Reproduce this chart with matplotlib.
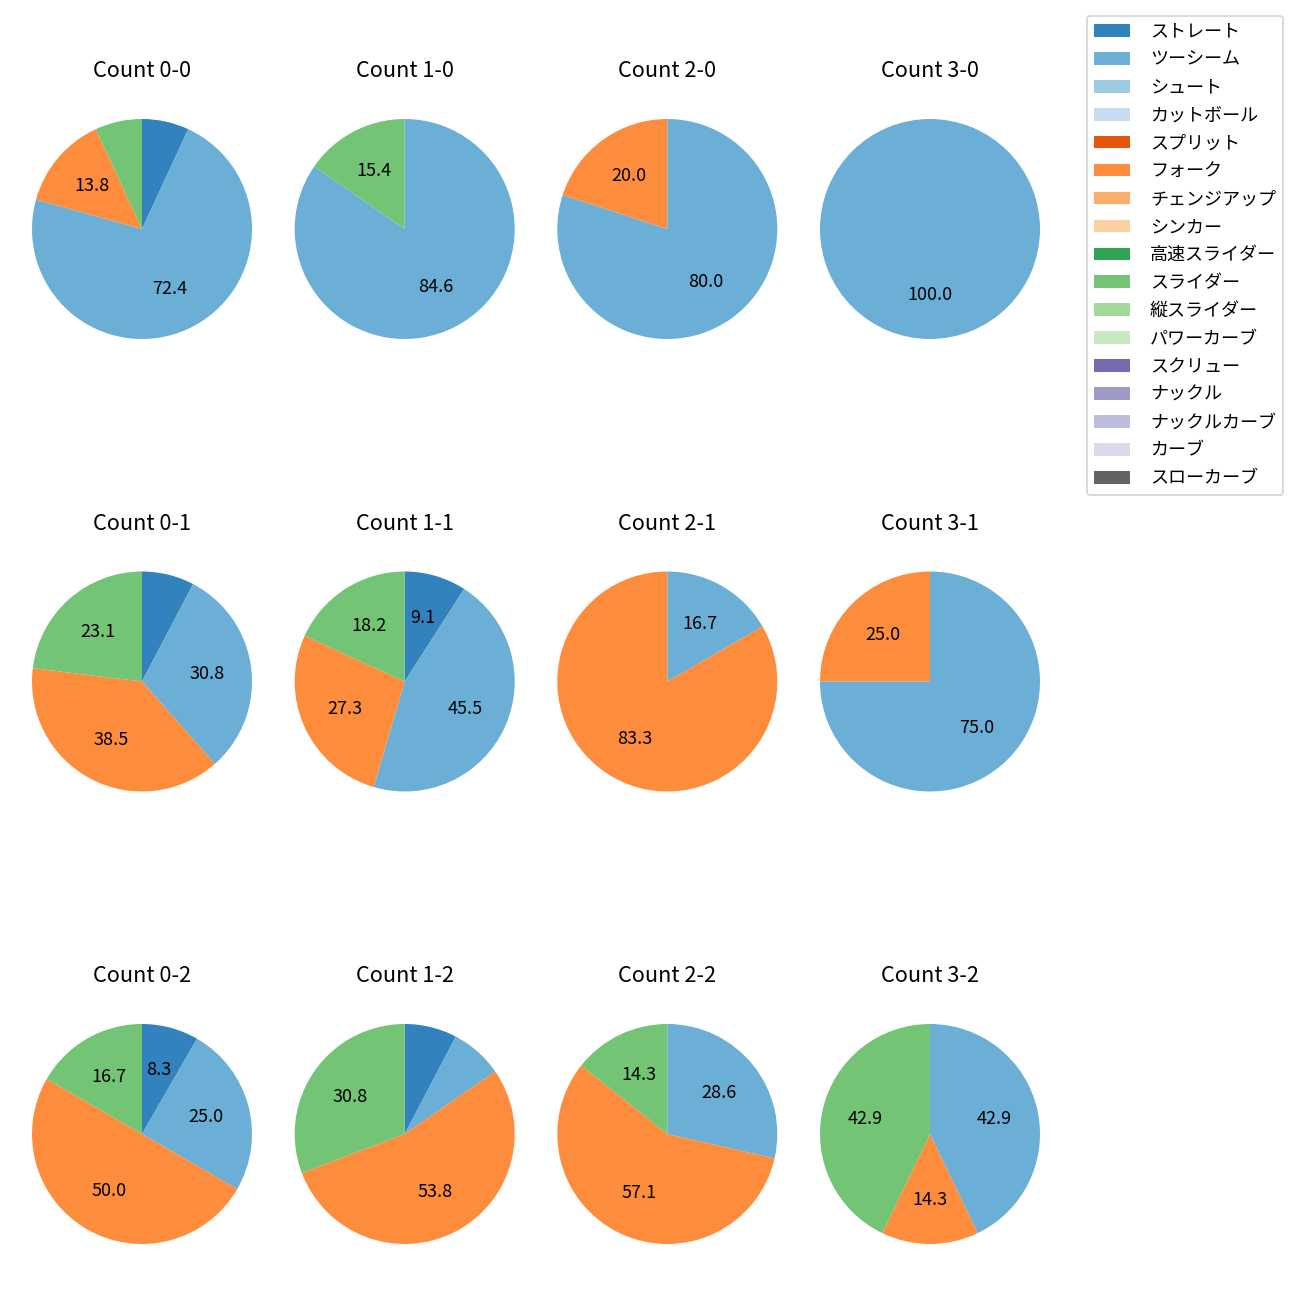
import matplotlib
matplotlib.use("Agg")
import matplotlib.pyplot as plt
from matplotlib.patches import Patch

plt.rcParams['font.family'] = ['Noto Sans CJK JP', 'DejaVu Sans']

pitch_types = [
    "ストレート", "ツーシーム", "シュート", "カットボール",
    "スプリット", "フォーク", "チェンジアップ", "シンカー",
    "高速スライダー", "スライダー", "縦スライダー", "パワーカーブ",
    "スクリュー", "ナックル", "ナックルカーブ", "カーブ", "スローカーブ",
]

colors = [
    "#3182bd", "#6baed6", "#9ecae1", "#c6dbef",
    "#e6550d", "#fd8d3c", "#fdae6b", "#fdd0a2",
    "#31a354", "#74c476", "#a1d99b", "#c7e9c0",
    "#756bb1", "#9e9ac8", "#bcbddc", "#dadaeb", "#636363",
]

# pitch counts per ball-strike count: ストレート, ツーシーム, フォーク, スライダー
used = ["ストレート", "ツーシーム", "フォーク", "スライダー"]

counts = {
    "0-0": [2, 21, 4, 2],
    "1-0": [0, 11, 0, 2],
    "2-0": [0, 4, 1, 0],
    "3-0": [0, 1, 0, 0],
    "0-1": [1, 4, 5, 3],
    "1-1": [1, 5, 3, 2],
    "2-1": [0, 1, 5, 0],
    "3-1": [0, 3, 1, 0],
    "0-2": [1, 3, 6, 2],
    "1-2": [1, 1, 7, 4],
    "2-2": [0, 2, 4, 1],
    "3-2": [0, 3, 1, 3],
}

fig = plt.figure(figsize=(10, 10), dpi=130)

col_x = [142, 404.7, 667.3, 930]
row_y = [229, 681.5, 1134]
side = 275

for i, strikes in enumerate(range(3)):
    for j, balls in enumerate(range(4)):
        key = f"{balls}-{strikes}"
        cx, cy = col_x[j], row_y[i]
        ax = fig.add_axes([(cx - side / 2) / 1300, 1 - (cy + side / 2) / 1300,
                           side / 1300, side / 1300])
        vals, cols = [], []
        for name, v in zip(used, counts[key]):
            if v > 0:
                vals.append(v)
                cols.append(colors[pitch_types.index(name)])
        ax.pie(vals, colors=cols, startangle=90, counterclock=False,
               autopct=lambda p: f"{p:.1f}" if p >= 8 else "",
               textprops={'fontsize': 10})
        ax.set_title(f"Count {key}", fontsize=12, pad=8)

handles = [Patch(facecolor=c, label=n) for n, c in zip(pitch_types, colors)]
fig.legend(handles=handles, loc="upper right", bbox_to_anchor=(0.994, 0.995),
           fontsize=10, labelspacing=0.55, handletextpad=1.1)

fig.savefig("out.png", dpi=130)
